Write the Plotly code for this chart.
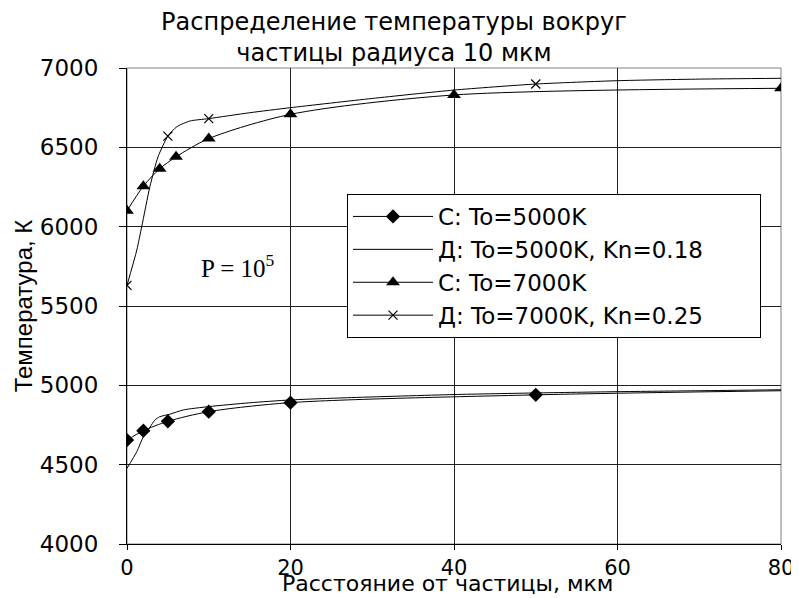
import plotly.graph_objects as go

# ---- data ----
c5000_x = [0, 2, 5, 10, 20, 50, 80]
c5000_t = [4655, 4714, 4773, 4834, 4891, 4940, 4966]
c5000_marked = [0, 2, 5, 10, 20, 50]

d5000_x = [0, 1.2, 2, 2.8, 3.4, 4, 5.3, 6.9, 10, 15, 20, 27, 40, 50, 60, 70, 80]
d5000_t = [4477, 4582, 4676, 4735, 4781, 4802, 4819, 4845, 4866, 4890, 4908, 4922, 4942, 4952, 4960, 4966, 4972]

c7000_x = [0, 2, 4, 6, 10, 20, 40, 80]
c7000_t = [6100, 6255, 6365, 6440, 6555, 6708, 6830, 6872]

d7000_x = [0, 1.2, 1.8, 2.8, 3.8, 5, 6.1, 7.7, 10, 15, 20, 30, 40, 50, 60, 70, 80]
d7000_t = [5630, 5853, 6000, 6252, 6441, 6571, 6630, 6666, 6681, 6718, 6750, 6808, 6861, 6899, 6920, 6930, 6935]
d7000_marked = [0, 5, 10, 50]

names = ["С: To=5000K", "Д: To=5000K, Kn=0.18", "С: To=7000K", "Д: To=7000K, Kn=0.25"]
title_text = "Распределение температуры вокруг<br>частицы радиуса 10 мкм"
x_title = "Расстояние от частицы, мкм"
y_title = "Температура, К"
x_ticks = [0, 20, 40, 60, 80]
y_ticks = [4000, 4500, 5000, 5500, 6000, 6500, 7000]

BLACK = "#000000"
CLEAR = "rgba(0,0,0,0)"
PAD = "\u00a0" * 7  # right padding inside the legend box

# the page body adds an 8px offset, so the figure is 8px smaller than the window
W, H = 791, 590
ML, MR, MT, MB = 119, 18, 60, 54


def mask_colors(xs, marked):
    return [BLACK if x in marked else CLEAR for x in xs]


fig = go.Figure()
fig.add_trace(go.Scatter(
    x=c5000_x, y=c5000_t, name=names[0], mode="lines+markers",
    line=dict(color=BLACK, width=1, shape="spline", smoothing=0.8),
    marker=dict(symbol="diamond", size=11, color=mask_colors(c5000_x, c5000_marked), line=dict(width=0)),
    legendgroup="g1"))
fig.add_trace(go.Scatter(
    x=d5000_x, y=d5000_t, name=names[1] + PAD, mode="lines",
    line=dict(color=BLACK, width=1, shape="spline", smoothing=0.6),
    legendgroup="g2"))
fig.add_trace(go.Scatter(
    x=c7000_x, y=c7000_t, name=names[2], mode="lines+markers",
    line=dict(color=BLACK, width=1, shape="spline", smoothing=0.8),
    marker=dict(symbol="triangle-up", size=12, color=BLACK, line=dict(width=0)),
    legendgroup="g3"))
fig.add_trace(go.Scatter(
    x=d7000_x, y=d7000_t, name=names[3], mode="lines+markers",
    line=dict(color=BLACK, width=1, shape="spline", smoothing=0.6),
    marker=dict(symbol="x-thin", size=9, color=mask_colors(d7000_x, d7000_marked),
                line=dict(width=1.2, color=mask_colors(d7000_x, d7000_marked))),
    legendgroup="g4"))

fig.add_annotation(x=13.6, y=5752, xref="x", yref="y", text="P = 10<sup>5</sup>",
                   showarrow=False, font=dict(family="Liberation Serif", size=25, color=BLACK))

# x-axis title placed under the tick labels
fig.add_annotation(x=0.490, xref="paper", y=0, yref="paper",
                   xanchor="center", yanchor="bottom", yshift=-MB,
                   text=x_title, showarrow=False,
                   font=dict(family="DejaVu Sans", size=22, color=BLACK))

# plot-area frame (grey top/right like the reference)
fig.add_shape(type="rect", xref="paper", yref="paper", x0=0, y0=0, x1=1, y1=1,
              line=dict(color="#808080", width=1), layer="between")

fig.update_layout(
    width=W, height=H,
    margin=dict(l=ML, r=MR, t=MT, b=MB, autoexpand=False),
    paper_bgcolor="white", plot_bgcolor="white",
    title=dict(text=title_text, x=386 / W, xref="container", xanchor="center",
               y=1 - 22 / H, yref="container", yanchor="middle",
               font=dict(family="DejaVu Sans", size=24, color=BLACK)),
    showlegend=True,
    legend=dict(x=(347 - 127) / 654, y=(544 - 194) / 476, xanchor="left", yanchor="top",
                bgcolor="white", bordercolor=BLACK, borderwidth=1,
                font=dict(family="DejaVu Sans", size=23, color=BLACK),
                tracegroupgap=0, itemwidth=80),
    xaxis=dict(range=[0, 80], tickvals=x_ticks, showgrid=True, gridcolor="#202020", gridwidth=1,
               showline=True, linecolor=BLACK, linewidth=1, zeroline=False,
               ticks="outside", ticklen=5, tickcolor=BLACK, ticklabelstandoff=0,
               automargin=False,
               tickfont=dict(family="DejaVu Sans", size=21, color=BLACK)),
    yaxis=dict(range=[4000, 7000], tickvals=y_ticks, showgrid=True, gridcolor="#202020", gridwidth=1,
               showline=True, linecolor=BLACK, linewidth=1, zeroline=False,
               ticks="outside", ticklen=7, tickcolor=BLACK, ticklabelstandoff=16,
               automargin=False,
               tickfont=dict(family="DejaVu Sans", size=23, color=BLACK),
               title=dict(text=y_title, standoff=0,
                          font=dict(family="Liberation Sans", size=24, color=BLACK))),
)

fig.write_html("out.html")
